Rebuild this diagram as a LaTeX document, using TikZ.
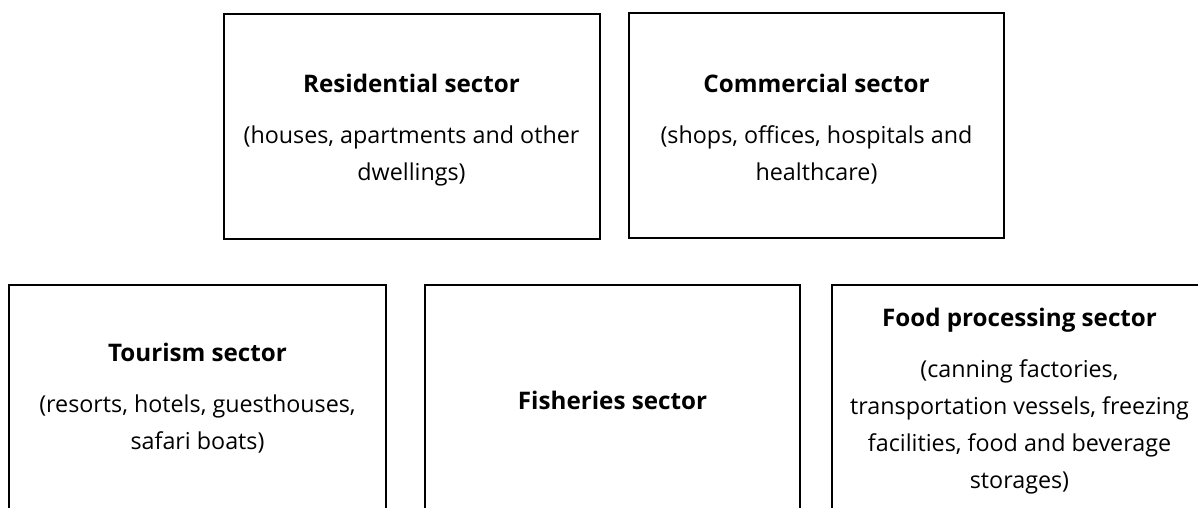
\documentclass[tikz,border=0pt]{standalone}
\usepackage{fontspec}
\setmainfont{Open Sans}
\newcommand{\ttl}[1]{{\fontsize{24.2}{37}\selectfont\bfseries #1}}
\begin{document}
\begin{tikzpicture}[x=1pt,y=-1pt,
  sectorbox/.style={draw=black, line width=2pt, minimum width=#1, minimum height=228pt, inner sep=0pt},
  sectorbox/.default=376pt,
  sectortext/.style={anchor=base, inner sep=0pt, align=center, font=\fontsize{23.3}{37}\selectfont}]
\useasboundingbox (0,0) rectangle (1198,507);
\clip (0,0) rectangle (1198,507);
\fill[white] (0,0) rectangle (1198,507);
\node[sectorbox, minimum height=225pt] (res) at (411.5,126.5) {};
\node[sectorbox=375pt, minimum height=225pt] (com) at (816.5,125.5) {};
\node[sectorbox=377pt] (tour) at (197.5,399) {};
\node[sectorbox=375pt] (fish) at (612.5,399) {};
\node[sectorbox=375pt] (food) at (1019.5,399) {};
\node[sectortext] (res-t) at (res.center |- 0,180) {\ttl{Residential sector}\\[14pt](houses, apartments and other\\dwellings)};
\node[sectortext] (com-t) at (com.center |- 0,180) {\ttl{Commercial sector}\\[14pt](shops, offices, hospitals and\\healthcare)};
\node[sectortext] (tour-t) at (tour.center |- 0,449) {\ttl{Tourism sector}\\[14pt](resorts, hotels, guesthouses,\\safari boats)};
\node[sectortext] (fish-t) at (fish.center |- 0,409.5) {\ttl{Fisheries sector}};
\node[sectortext] (food-t) at (food.center |- 0,488) {\ttl{Food processing sector}\\[14pt](canning factories,\\transportation vessels, freezing\\facilities, food and beverage\\storages)};
\end{tikzpicture}
\end{document}
